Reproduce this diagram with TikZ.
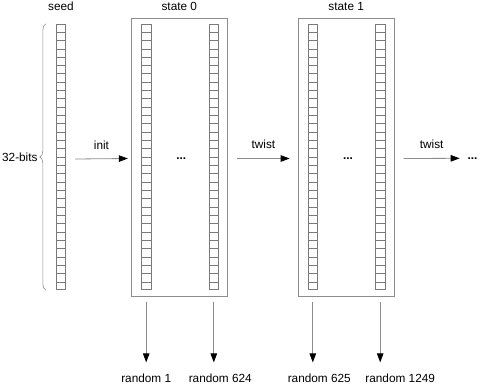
\documentclass[tikz,border=0pt]{standalone}
\usepackage{fontspec}
\setmainfont{Liberation Sans}
\usetikzlibrary{arrows.meta,positioning,calc,decorations.pathreplacing}
\definecolor{cLine}{HTML}{8C8C8C}
\definecolor{cCell}{HTML}{7A7A7A}
\tikzset{
  bitcol/.style  ={draw=cCell,line width=0.8pt,minimum width=9.5pt,
                   minimum height=265.5pt,inner sep=0pt},
  cellsep/.style ={draw=cCell,line width=0.6pt},
  statebox/.style={draw=cLine,line width=1pt,minimum width=96pt,
                   minimum height=278.5pt,inner sep=0pt},
  lbl/.style     ={font=\fontsize{11.8}{13}\selectfont,text=black,inner sep=0pt},
  elide/.style   ={lbl,font=\fontsize{11.8}{13}\selectfont\bfseries},
  sig/.style     ={-{Triangle[length=9pt,width=6.5pt,color=black]},draw=cLine,line width=0.8pt},
  bracket/.style ={decorate,decoration={brace,amplitude=6pt},draw=cLine,line width=0.6pt},
}

\begin{document}
\begin{tikzpicture}[x=1pt, y=-1pt]
\useasboundingbox (0,0) rectangle (482,385);

% ===== state boxes ==========================================================
\node[statebox] (state0) at (179.3,157.5) {};
\node[statebox] (state1) at (346.2,157.5) {};

% ===== bit columns (32 cells each) ==========================================
\foreach \c/\x in {seed/61,s0a/146.2,s0b/213.8,s1a/312.8,s1b/380.2}{
  \node[bitcol] (\c) at (\x,157) {};
  \foreach \i in {1,...,31}
    \draw[cellsep] ($(\c.north west)!\i/32!(\c.south west)$)
                -- ($(\c.north east)!\i/32!(\c.south east)$);
}

% ===== titles ===============================================================
\node[lbl,anchor=base] (seedlbl) at ($(seed.north)+(0,-13.3)$) {seed};
\node[lbl,anchor=base] (st0lbl)  at ($(state0.north)+(0,-7.6)$) {state 0};
\node[lbl,anchor=base] (st1lbl)  at ($(state1.north)+(0,-7.6)$) {state 1};

% the brace spans the whole seed column
\draw[bracket] ($(seed.south west)+(-10,0)$) -- node[lbl,left=8pt] (bits) {32-bits}
               ($(seed.north west)+(-10,0)$);

% ===== elided columns =======================================================
\node[elide] (dots0) at (181.3,158.3) {...};
\node[elide] (dots1) at (348,158.3)   {...};
\node[elide] (more)  at (472.5,158.3) {...};

% ===== init / twist =========================================================
\draw[sig] ($(seed.east)+(9,2)$) -- node[lbl,above=9pt] (init) {init}
           ($(state0.west)+(-3,1)$);
\draw[sig] ($(state0.east)+(9.4,1)$) -- node[lbl,above=9pt] (tw0) {twist}
           ($(state1.west)+(-8,1)$);
\draw[sig] ($(state1.east)+(9,1)$) -- node[lbl,above=9pt] (tw1) {twist}
           ($(more.west)+(-7.7,0)$);

% ===== outputs ==============================================================
% labels sit a little right of their arrows, as in the sketch
\foreach \c/\s/\r/\dx/\t in {s0a/state0/r1/0/random 1, s0b/state0/r624/6.5/random 624,
                             s1a/state1/r625/6.5/random 625, s1b/state1/r1249/20/random 1249}{
  \node[lbl,anchor=base] (\r) at ($(\c.south)+(\dx,92)$) {\t};
  \draw[sig] ($(\c.south |- \s.south)+(0,5)$) -- ($(\c.south |- \r.north)+(0,-11)$);
}
\end{tikzpicture}
\end{document}
